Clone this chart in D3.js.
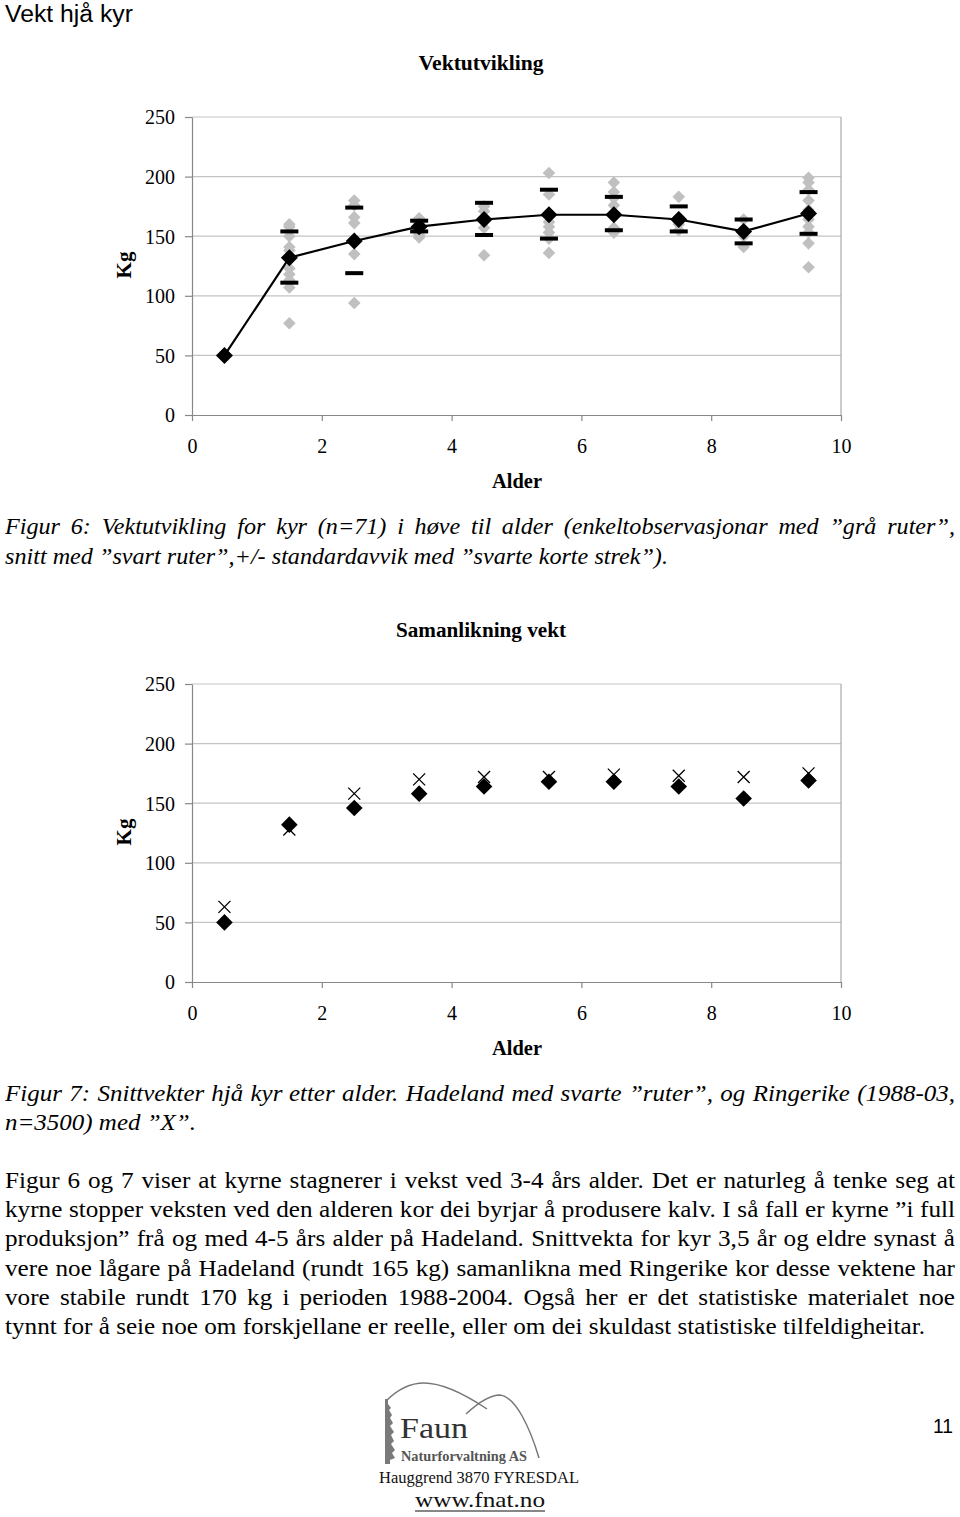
<!DOCTYPE html>
<html>
<head>
<meta charset="utf-8">
<script src="https://cdn.jsdelivr.net/npm/d3@7"></script>
<style>
  body { margin: 0; background: #fff; }
  svg { display: block; }
</style>
</head>
<body>
<div id="page"></div>
<script>
// ages (x positions of the markers)
var ages = [0.5, 1.5, 2.5, 3.5, 4.5, 5.5, 6.5, 7.5, 8.5, 9.5];

// Hadeland: mean weight per age and +/- 1 sd
var hadelandMean = [50, 132, 146, 158, 164, 168, 168, 164, 154, 169];
var sdUpper = [null, 154, 174, 163, 178, 189, 183, 175, 164, 187];
var sdLower = [null, 111, 119, 154, 151, 148, 155, 154, 144, 152];

// single observations (grey diamonds), one list per age
var observations = [
  [50],
  [160, 158, 150, 141, 138, 123, 118, 113, 107, 77],
  [180, 176, 166, 161, 135, 94],
  [165, 161, 158, 155, 151, 149],
  [175, 171, 165, 157, 134],
  [203, 185, 162, 158, 153, 148, 136],
  [195, 187, 182, 176, 157, 153],
  [183, 166, 160, 155],
  [164, 156, 150, 141],
  [199, 195, 189, 180, 172, 164, 158, 153, 144, 124]
];

// Ringerike 1988-03 mean weights (X markers)
var ringerikeMean = [63, 128, 158, 170, 172, 172, 174, 173, 172, 175];

var yTicks = [0, 50, 100, 150, 200, 250];
var xTicks = [0, 2, 4, 6, 8, 10];

var caption6 = [
  "Figur 6: Vektutvikling for kyr (n=71) i høve til alder (enkeltobservasjonar med ”grå ruter”,",
  "snitt med ”svart ruter”,+/- standardavvik med ”svarte korte strek”)."
];
var caption7 = [
  "Figur 7: Snittvekter hjå kyr etter alder. Hadeland med svarte ”ruter”, og Ringerike (1988-03,",
  "n=3500) med ”X”."
];
var bodyLines = [
  "Figur 6 og 7 viser at kyrne stagnerer i vekst ved 3-4 års alder. Det er naturleg å tenke seg at",
  "kyrne stopper veksten ved den alderen kor dei byrjar å produsere kalv. I så fall er kyrne ”i full",
  "produksjon” frå og med 4-5 års alder på Hadeland. Snittvekta for kyr 3,5 år og eldre synast å",
  "vere noe lågare på Hadeland (rundt 165 kg) samanlikna med Ringerike kor desse vektene har",
  "vore stabile rundt 170 kg i perioden 1988-2004. Også her er det statistiske materialet noe",
  "tynnt for å seie noe om forskjellane er reelle, eller om dei skuldast statistiske tilfeldigheitar."
];

var W = 960, H = 1517;
var serif = "'Liberation Serif', 'Times New Roman', serif";
var sans = "'Liberation Sans', Arial, sans-serif";

var svg = d3.select("#page").append("svg")
    .attr("width", W)
    .attr("height", H);

svg.append("rect").attr("width", W).attr("height", H).attr("fill", "#fff");

svg.append("text")
    .attr("x", 5).attr("y", 22)
    .attr("textLength", 128).attr("lengthAdjust", "spacingAndGlyphs")
    .style("font-family", sans).style("font-size", "23px")
    .text("Vekt hjå kyr");

// diamond path with half-diagonal r
function diamond(r) {
  return "M0," + (-r) + "L" + r + ",0L0," + r + "L" + (-r) + ",0Z";
}

function drawFrame(top, bottom, title, titleWidth) {
  var x = d3.scaleLinear().domain([0, 10]).range([192, 841]);
  var y = d3.scaleLinear().domain([0, 250]).range([bottom, top]);
  var g = svg.append("g");

  // gridlines
  g.selectAll(".grid")
    .data(yTicks.filter(function(d) { return d > 0; }))
   .enter()
    .append("line")
    .attr("x1", x(0)).attr("x2", x(10))
    .attr("y1", function(d) { return y(d); })
    .attr("y2", function(d) { return y(d); })
    .style("stroke", "#c4c4c4").style("stroke-width", 1.2);

  g.append("line")
    .attr("x1", x(10)).attr("x2", x(10))
    .attr("y1", y(250)).attr("y2", y(0))
    .style("stroke", "#aaa").style("stroke-width", 1.2);

  var yAxis = g.append("g")
    .attr("transform", "translate(" + x(0) + ",0)")
    .call(d3.axisLeft(y).tickValues(yTicks).tickSize(7).tickSizeOuter(0).tickPadding(10));

  var xAxis = g.append("g")
    .attr("transform", "translate(0," + y(0) + ")")
    .call(d3.axisBottom(x).tickValues(xTicks).tickSize(6).tickSizeOuter(0).tickPadding(18));

  [yAxis, xAxis].forEach(function(a) {
    a.selectAll("path, line").style("stroke", "#888").style("stroke-width", 1.2);
    a.selectAll("text")
      .style("font-family", serif)
      .style("font-size", "20px")
      .style("fill", "#000");
  });
  yAxis.selectAll("text").attr("dy", "0.34em");

  g.append("text")
    .attr("x", 481 - titleWidth / 2).attr("y", top - 47)
    .attr("textLength", titleWidth).attr("lengthAdjust", "spacingAndGlyphs")
    .style("font-family", serif).style("font-size", "20px").style("font-weight", "bold")
    .text(title);

  g.append("text")
    .attr("x", 492).attr("y", bottom + 73)
    .attr("textLength", 50).attr("lengthAdjust", "spacingAndGlyphs")
    .style("font-family", serif).style("font-size", "20px").style("font-weight", "bold")
    .text("Alder");

  g.append("text")
    .attr("transform", "translate(131," + (top + 148) + ") rotate(-90)")
    .attr("text-anchor", "middle")
    .style("font-family", serif).style("font-size", "21px").style("font-weight", "bold")
    .text("Kg");

  return { g: g, x: x, y: y };
}

// ---- Figure 6 ----
var c1 = drawFrame(117, 415, "Vektutvikling", 125);

var obsFlat = [];
observations.forEach(function(list, i) {
  list.forEach(function(v) { obsFlat.push({ age: ages[i], value: v }); });
});

c1.g.selectAll(".obs")
  .data(obsFlat)
 .enter()
  .append("path")
  .attr("class", "obs")
  .attr("d", diamond(6.3))
  .attr("transform", function(d) { return "translate(" + c1.x(d.age) + "," + c1.y(d.value) + ")"; })
  .style("fill", "#c0c0c0");

var meanData = ages.map(function(a, i) {
  return { age: a, mean: hadelandMean[i], hi: sdUpper[i], lo: sdLower[i], ring: ringerikeMean[i] };
});

c1.g.append("path")
  .datum(meanData)
  .attr("d", d3.line()
    .x(function(d) { return c1.x(d.age); })
    .y(function(d) { return c1.y(d.mean); }))
  .style("fill", "none")
  .style("stroke", "#000")
  .style("stroke-width", 2.2);

var sdMarks = [];
meanData.forEach(function(d) {
  if (d.hi !== null) sdMarks.push({ age: d.age, v: d.hi });
  if (d.lo !== null) sdMarks.push({ age: d.age, v: d.lo });
});

c1.g.selectAll(".sd")
  .data(sdMarks)
 .enter()
  .append("rect")
  .attr("class", "sd")
  .attr("x", function(d) { return c1.x(d.age) - 9; })
  .attr("y", function(d) { return c1.y(d.v) - 2; })
  .attr("width", 18)
  .attr("height", 4)
  .style("fill", "#000");

c1.g.selectAll(".mean")
  .data(meanData)
 .enter()
  .append("path")
  .attr("class", "mean")
  .attr("d", diamond(8.5))
  .attr("transform", function(d) { return "translate(" + c1.x(d.age) + "," + c1.y(d.mean) + ")"; })
  .style("fill", "#000");

// ---- Figure 7 ----
var c2 = drawFrame(684, 982, "Samanlikning vekt", 170);

c2.g.selectAll(".ring")
  .data(meanData)
 .enter()
  .append("path")
  .attr("class", "ring")
  .attr("d", "M-6,-6L6,6M-6,6L6,-6")
  .attr("transform", function(d) { return "translate(" + c2.x(d.age) + "," + c2.y(d.ring) + ")"; })
  .style("stroke", "#000")
  .style("stroke-width", 1.3)
  .style("fill", "none");

c2.g.selectAll(".mean2")
  .data(meanData)
 .enter()
  .append("path")
  .attr("class", "mean2")
  .attr("d", diamond(8.3))
  .attr("transform", function(d) { return "translate(" + c2.x(d.age) + "," + c2.y(d.mean) + ")"; })
  .style("fill", "#000");

// ---- justified text blocks ----
// lastWidth: width of the (left aligned) last line in the original, used to
// find the horizontal stretch of the block
function block(lines, y0, lineH, italic, lastWidth) {
  var g = svg.append("g");
  var fontSize = 23;
  var texts = lines.map(function(line, i) {
    var t = g.append("text")
      .attr("y", y0 + i * lineH)
      .style("font-family", serif)
      .style("font-size", fontSize + "px")
      .style("font-style", italic ? "italic" : "normal");
    var words = line.split(" ");
    var spans = words.map(function(w) { return t.append("tspan").text(w); });
    var widths = spans.map(function(s) { return s.node().getComputedTextLength(); });
    return { spans: spans, widths: widths };
  });
  var space = fontSize * 0.25;
  var lastT = texts[texts.length - 1];
  var natural = d3.sum(lastT.widths) + space * (lastT.widths.length - 1);
  var k = lastWidth / natural;
  g.attr("transform", "translate(5,0) scale(" + k + ",1)");
  var full = 950 / k;
  texts.forEach(function(t, i) {
    var total = d3.sum(t.widths);
    var last = i === texts.length - 1;
    var gap = last ? space : (full - total) / (t.widths.length - 1);
    var xPos = 0;
    t.spans.forEach(function(s, j) {
      s.attr("x", xPos);
      xPos += t.widths[j] + gap;
    });
  });
}

block(caption6, 534, 30, true, 663);
block(caption7, 1101, 29, true, 191);
block(bodyLines, 1188, 29.2, false, 920);

svg.append("text")
  .attr("x", 933).attr("y", 1433)
  .attr("textLength", 20).attr("lengthAdjust", "spacingAndGlyphs")
  .style("font-family", sans).style("font-size", "20px")
  .text("11");

// ---- logo ----
var logo = svg.append("g");
logo.append("path")
  .attr("d", "M386,1401 C398,1389 412,1383 424,1383 C444,1383 466,1395 487,1409")
  .style("fill", "none").style("stroke", "#777").style("stroke-width", 1.5);
logo.append("path")
  .attr("d", "M466,1414 C480,1401 491,1395 500,1395 C516,1397 530,1428 539,1458")
  .style("fill", "none").style("stroke", "#777").style("stroke-width", 1.5);
logo.append("path")
  .attr("d", "M385,1399 L388,1399 L388,1404 L391,1408 L389,1410 L392,1415 L390,1418 L393,1423 L390,1426 L394,1432 L391,1435 L394,1441 L391,1444 L395,1450 L392,1453 L395,1458 L390,1460 L390,1464 L385,1464 Z")
  .style("fill", "#7a7a7a");
logo.append("text")
  .attr("x", 400).attr("y", 1438)
  .attr("textLength", 68).attr("lengthAdjust", "spacingAndGlyphs")
  .style("font-family", serif).style("font-size", "30px").style("fill", "#333")
  .text("Faun");
logo.append("text")
  .attr("x", 401).attr("y", 1461)
  .attr("textLength", 126).attr("lengthAdjust", "spacingAndGlyphs")
  .style("font-family", serif).style("font-size", "15px").style("font-weight", "bold").style("fill", "#555")
  .text("Naturforvaltning AS");
logo.append("text")
  .attr("x", 379).attr("y", 1483)
  .attr("textLength", 200).attr("lengthAdjust", "spacingAndGlyphs")
  .style("font-family", serif).style("font-size", "17px").style("fill", "#111")
  .text("Hauggrend 3870 FYRESDAL");
logo.append("text")
  .attr("x", 415).attr("y", 1507)
  .attr("textLength", 130).attr("lengthAdjust", "spacingAndGlyphs")
  .style("font-family", serif).style("font-size", "21px").style("fill", "#111")
  .text("www.fnat.no");
logo.append("line")
  .attr("x1", 415).attr("x2", 545).attr("y1", 1511).attr("y2", 1511)
  .style("stroke", "#111").style("stroke-width", 1.2);
</script>
</body>
</html>
